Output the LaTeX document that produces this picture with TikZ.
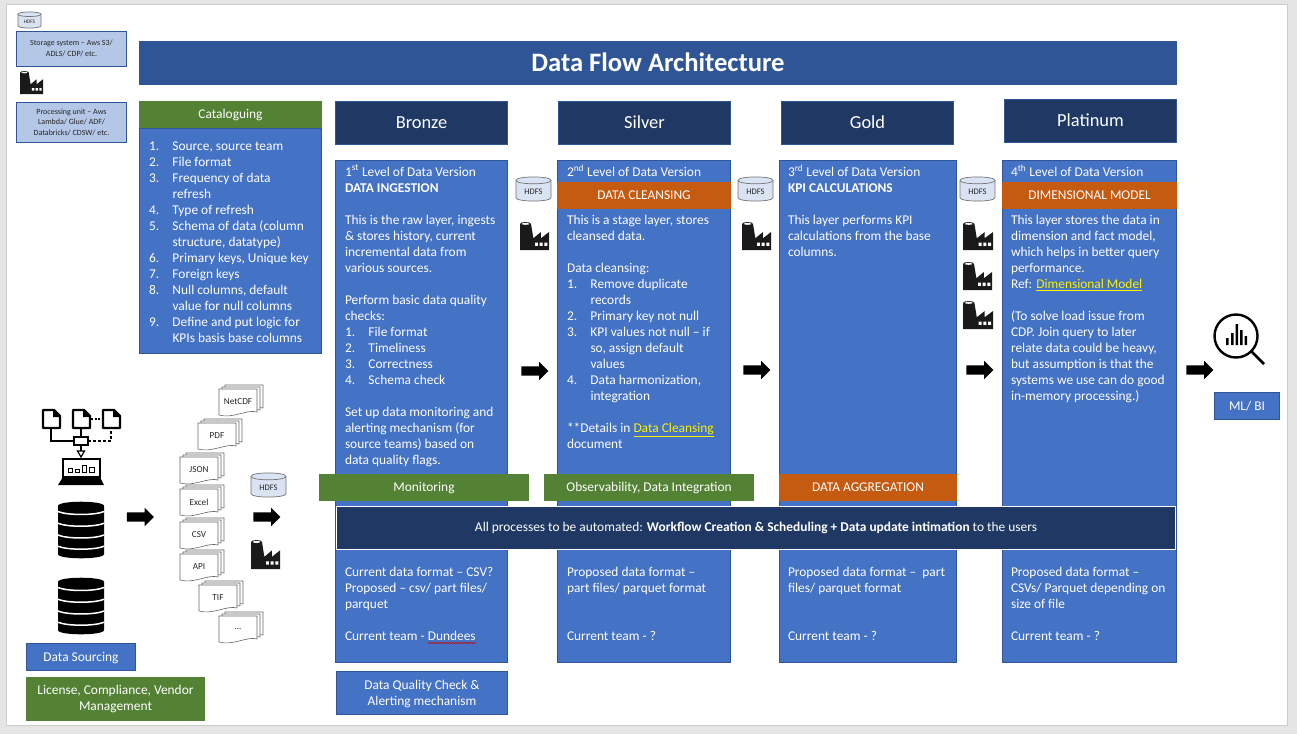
\documentclass[tikz,border=0pt]{standalone}
\usepackage{fontspec}
\setmainfont{Carlito}
\usetikzlibrary{shapes.arrows,decorations.pathmorphing}
\definecolor{blu}{HTML}{4472C4}
\definecolor{bdr}{HTML}{2F5597}
\definecolor{nvy}{HTML}{1F3864}
\definecolor{grn}{HTML}{548235}
\definecolor{org}{HTML}{C55A11}
\definecolor{lit}{HTML}{B4C7E7}
\definecolor{cyl}{HTML}{DAE3F3}
\definecolor{icn}{HTML}{1A1A1A}
\tikzset{
 x=1pt,y=-1pt,
 bx/.style={inner sep=0pt,outer sep=0pt,anchor=north west,align=center,text=white,font=\fontsize{13.4}{16}\selectfont},
 bluebox/.style={bx,fill=blu,draw=bdr,line width=.8pt},
 navybox/.style={bx,fill=nvy,draw=bdr,line width=.6pt},
 greenbox/.style={bx,fill=grn},
 orangebox/.style={bx,fill=org},
 lightbox/.style={bx,fill=lit,draw=bdr,line width=.9pt,text=black!85,font=\fontsize{8}{10.5}\selectfont},
 bodytext/.style={inner sep=0pt,outer sep=0pt,anchor=north west,align=left,text=white,font=\fontsize{13.4}{16}\selectfont},
 blockarrow/.style={single arrow,fill=black,inner sep=0pt,outer sep=0pt,minimum height=27pt,minimum width=18pt,single arrow head extend=4.5pt,single arrow head indent=0pt},
}
\newcommand{\nbx}[7]{\node[#6,minimum width={#4-#2-.5},minimum height={#5-#3-.5}] (#1) at (#2+.25,#3+.25) {\strut #7\strut};}
\newcommand{\lowr}{\rule{0pt}{13.4pt}}
\newcommand{\barrow}[3]{\node[blockarrow] (#1) at (#2,#3) {\rule{0pt}{9pt}};}
\newcommand{\cylinderic}[6]{% name x y w h size
 \begin{scope}[shift={(#2,#3)},x=#4pt,y=-#5pt]
 \draw[fill=cyl,draw=black!55,line width=.7pt] (0,.14) .. controls (0,-.05) and (1,-.05) .. (1,.14) -- (1,.86) .. controls (1,1.05) and (0,1.05) .. (0,.86) -- cycle;
 \draw[draw=black!55,line width=.7pt] (0,.14) .. controls (0,.33) and (1,.33) .. (1,.14);
 \node[inner sep=0pt,text=black!85,font=\fontsize{#6}{#6}\selectfont] (#1) at (.5,.6) {HDFS};
 \end{scope}}
\newcommand{\factoryic}[4]{% x y w h
 \begin{scope}[shift={(#1,#2)},x=#3pt,y=-#4pt]
 \fill[icn] (0,.07) .. controls (0,-.02) and (.38,-.02) .. (.38,.07) -- (.46,.58) -- (.72,.36) -- (.72,.58) -- (1,.36) -- (1,1) -- (0,1) -- cycle;
 \fill[white] (.06,.07) .. controls (.06,.02) and (.32,.02) .. (.32,.07) .. controls (.32,.11) and (.06,.11) .. (.06,.07) -- cycle;
 \fill[white] (.52,.74) rectangle (.62,.85) (.68,.74) rectangle (.78,.85) (.84,.74) rectangle (.94,.85);
 \end{scope}}
\newcommand{\docstack}[4]{% name x y text
 \begin{scope}[shift={(#2,#3)}]
 \foreach \d in {2,1,0}{
 \draw[fill=white,draw=black!60,line width=.6pt] (\d*3,-\d*2) -- (38+\d*3,-\d*2) -- (38+\d*3,23-\d*2) .. controls (28+\d*3,20-\d*2) and (14+\d*3,30-\d*2) .. (\d*3,26-\d*2) -- cycle;}
 \node[inner sep=0pt,text=black!85,font=\fontsize{9.2}{10}\selectfont] (#1) at (19,13) {#4};
 \end{scope}}
\newcommand{\dbicon}[3]{% x y h
 \begin{scope}[shift={(#1,#2)},x=46pt,y=-#3pt]
 \fill[black] (0,.07) .. controls (0,-.03) and (1,-.03) .. (1,.07) -- (1,.93) .. controls (1,1.03) and (0,1.03) .. (0,.93) -- cycle;
 \foreach \k in {.17,.38,.59,.79}{
 \draw[white,line width=1.5pt] (0,\k) .. controls (.2,\k+.07) and (.8,\k+.07) .. (1,\k);}
 \end{scope}}
\newcommand{\docicon}[2]{% x y
 \draw[black,line width=2.3pt,line join=round,fill=white] (#1,#2) -- (#1+11,#2) -- (#1+17,#2+6) -- (#1+17,#2+18) -- (#1,#2+18) -- cycle;
 \fill[black] (#1+10,#2) -- (#1+17,#2+7) -- (#1+10,#2+7) -- cycle;}
\newcommand{\lii}[1]{\makebox[23.5pt][l]{#1.}}
\newcommand{\lcc}{\hspace*{23.5pt}}
\newcommand{\yl}[1]{\textcolor{yellow}{\underline{#1}}}
\begin{document}
\begin{tikzpicture}
\useasboundingbox (0,0) rectangle (1297,734);
\fill[black!10] (0,0) rectangle (1297,734);
\draw[fill=white,draw=black!20,line width=.8pt] (6.5,4.5) rectangle (1287.5,725.5);
% legend
\cylinderic{hdfsA}{18}{12}{23}{16}{5.3}
\nbx{storage}{16}{31}{127}{67}{lightbox}{Storage system -- Aws S3/\\ADLS/ CDP/ etc.}
\factoryic{20}{71}{23}{23}
\nbx{processing}{16}{102}{127}{143}{lightbox}{Processing unit -- Aws\\Lambda/ Glue/ ADF/\\Databricks/ CDSW/ etc.}
% title
\nbx{title}{139}{41}{1177}{85}{bx,fill=bdr,font=\fontsize{26.6}{40}\selectfont\bfseries}{Data Flow Architecture}
% catalogue
\nbx{catbody}{139}{128}{322}{354}{bluebox}{}
\nbx{cathead}{139}{101}{322}{128}{greenbox}{\lowr Cataloguing}
\node[bodytext] (cattext) at (149,139) {\strut\lii{1}Source, source team\\ \lii{2}File format\\ \lii{3}Frequency of data\\ \lcc refresh\\ \lii{4}Type of refresh\\ \lii{5}Schema of data (column\\ \lcc structure, datatype)\\ \lii{6}Primary keys, Unique key\\ \lii{7}Foreign keys\\ \lii{8}Null columns, default\\ \lcc value for null columns\\ \lii{9}Define and put logic for\\ \lcc KPIs basis base columns};
% headers
\tikzset{hdr/.style={navybox,font=\fontsize{18.4}{26}\selectfont}}
\nbx{bronzeh}{335}{101}{508}{145}{hdr}{Bronze}
\nbx{silverh}{558}{101}{731}{145}{hdr}{Silver}
\nbx{goldh}{781}{101}{954}{145}{hdr}{Gold}
\nbx{plath}{1004}{99}{1177}{143}{hdr}{Platinum}
% bodies
\nbx{bronzeb}{335}{160}{508}{663}{bluebox}{}
\nbx{silverb}{557}{160}{731}{663}{bluebox}{}
\nbx{goldb}{779}{160}{957}{663}{bluebox}{}
\nbx{platb}{1002}{160}{1177}{663}{bluebox}{}
\nbx{cleansing}{557}{182}{731}{209}{orangebox}{\lowr DATA CLEANSING}
\nbx{dimmodel}{1002}{182}{1177}{209}{orangebox}{\lowr DIMENSIONAL MODEL}
\node[bodytext] (bronzet) at (345,165) {\strut1\textsuperscript{st} Level of Data Version\\ \textbf{DATA INGESTION}\\ ~\\ This is the raw layer, ingests\\ \& stores history, current\\ incremental data from\\ various sources.\\ ~\\ Perform basic data quality\\ checks:\\ \lii{1}File format\\ \lii{2}Timeliness\\ \lii{3}Correctness\\ \lii{4}Schema check\\ ~\\ Set up data monitoring and\\ alerting mechanism (for\\ source teams) based on\\ data quality flags.};
\node[bodytext] (silvert) at (567,165) {\strut2\textsuperscript{nd} Level of Data Version};
\node[bodytext] (silvert2) at (567,213) {\strut This is a stage layer, stores\\ cleansed data.\\ ~\\ Data cleansing:\\ \lii{1}Remove duplicate\\ \lcc records\\ \lii{2}Primary key not null\\ \lii{3}KPI values not null -- if\\ \lcc so, assign default\\ \lcc values\\ \lii{4}Data harmonization,\\ \lcc integration\\ ~\\ **Details in \yl{Data Cleansing}\\ document};
\node[bodytext] (goldt) at (788,165) {\strut3\textsuperscript{rd} Level of Data Version\\ \textbf{KPI CALCULATIONS}\\ ~\\ This layer performs KPI\\ calculations from the base\\ columns.};
\node[bodytext] (platt) at (1011,165) {\strut4\textsuperscript{th} Level of Data Version};
\node[bodytext] (platt2) at (1011,213) {\strut This layer stores the data in\\ dimension and fact model,\\ which helps in better query\\ performance.\\ Ref: \yl{Dimensional Model}\\ ~\\ (To solve load issue from\\ CDP. Join query to later\\ relate data could be heavy,\\ but assumption is that the\\ systems we use can do good\\ in-memory processing.)};
% bands
\nbx{monitoring}{319}{474}{529}{501}{greenbox}{\lowr Monitoring}
\nbx{observ}{544}{474}{754}{501}{greenbox}{\lowr Observability, Data Integration}
\nbx{aggreg}{779}{474}{957}{501}{orangebox}{\lowr DATA AGGREGATION}
\nbx{banner}{336}{506.5}{1176}{549.5}{navybox,draw=white,line width=.8pt}{All processes to be automated: \textbf{Workflow Creation \& Scheduling + Data update intimation} to the users}
% lower text
\node[bodytext] (bronzel) at (345,565) {\strut Current data format -- CSV?\\ Proposed -- csv/ part files/\\ parquet\\ ~\\ Current team - Dundees};
\node[bodytext] (silverl) at (567,565) {\strut Proposed data format --\\ part files/ parquet format\\ ~\\ ~\\ Current team - ?};
\node[bodytext] (goldl) at (788,565) {\strut Proposed data format -- ~part\\ files/ parquet format\\ ~\\ ~\\ Current team - ?};
\node[bodytext] (platl) at (1011,565) {\strut Proposed data format --\\ CSVs/ Parquet depending on\\ size of file\\ ~\\ Current team - ?};
\draw[red!80!black,line width=.6pt,decorate,decoration={snake,amplitude=.7pt,segment length=3pt}] (428,643) -- (476,643);
\nbx{dqc}{336}{671}{508}{715}{bluebox}{\lowr Data Quality Check \&\\Alerting mechanism}
\nbx{sourcing}{26}{643}{136}{671}{bluebox}{\lowr Data Sourcing}
\nbx{license}{26}{677}{205}{721}{greenbox}{License, Compliance, Vendor\\Management}
\nbx{mlbi}{1214}{392}{1280}{420}{bluebox}{\lowr ML/ BI}
% hdfs and factories
\cylinderic{hdfsB}{516}{177}{35}{24}{8.5}
\cylinderic{hdfsC}{738}{177}{35}{24}{8.5}
\cylinderic{hdfsD}{960}{177}{35}{24}{8.5}
\cylinderic{hdfsE}{251}{473}{35}{24}{8.5}
\factoryic{520}{222}{29}{28}
\factoryic{742}{222}{29}{28}
\factoryic{963}{222}{30}{28}
\factoryic{963}{262}{29}{28}
\factoryic{963}{301}{30}{28}
\factoryic{251}{540}{29}{29}
% arrows
\barrow{arrowA}{138}{517}
\barrow{arrowB}{264.5}{517}
\barrow{arrowC}{532.5}{371}
\barrow{arrowD}{754.5}{370}
\barrow{arrowE}{977.5}{370}
\barrow{arrowF}{1197.5}{370}
% magnifier
\draw[black,line width=2.4pt] (1236,336) circle (21.5);
\draw[black,line width=2.6pt] (1251.5,351.5) -- (1264,364);
\fill[black] (1226,338) rectangle (1228.5,345) (1231,333) rectangle (1233.5,345) (1235.5,324) rectangle (1238,345) (1240,330) rectangle (1242.5,345) (1244.5,336) rectangle (1247,345);
% doc stacks
\docstack{dNet}{219}{389}{NetCDF}
\docstack{dPdf}{198}{423}{PDF}
\docstack{dJson}{180}{457}{JSON}
\docstack{dExcel}{180}{489}{Excel}
\docstack{dCsv}{180}{522}{CSV}
\docstack{dApi}{180}{554}{API}
\docstack{dTif}{199}{585}{TIF}
\docstack{dDots}{219}{616}{...}
% databases
\dbicon{58}{502}{56}
\dbicon{58}{578}{56}
% network + laptop icon
\draw[black,line width=1.5pt] (51,428) -- (51,441) -- (73,441);
\draw[black,line width=1.5pt] (81,428) -- (81,437);
\draw[black,line width=1.5pt,dash pattern=on 3pt off 2pt] (88,441) -- (111,441) -- (111,428);
\draw[black,line width=1.5pt,dash pattern=on 2pt off 1.5pt] (91,419) -- (101,419);
\docicon{43}{410}
\docicon{73}{410}
\docicon{103}{410}
\draw[black,line width=1.5pt,fill=white] (74,437) rectangle (88,445);
\draw[black,line width=1.5pt] (81,445) -- (81,451);
\draw[black,line width=1.2pt,fill=white] (77.5,451) -- (84.5,451) -- (81,457) -- cycle;
\draw[black,line width=2pt,fill=white] (63,459) rectangle (100,477);
\fill[black] (63,477) -- (100,477) -- (104,485) -- (58,485) -- cycle;
\draw[black,line width=1pt] (68,468) rectangle (72,472) (75,469) rectangle (79,472) (82,465) rectangle (86,472) (89,467) rectangle (94,472);
\end{tikzpicture}
\end{document}
